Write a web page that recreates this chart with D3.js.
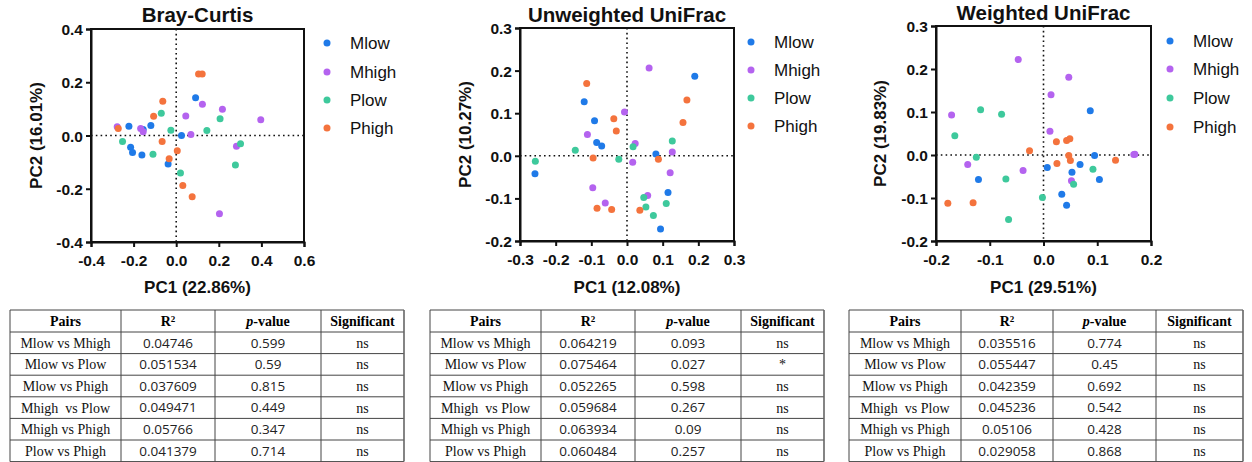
<!DOCTYPE html>
<html><head><meta charset="utf-8">
<script src="https://cdn.jsdelivr.net/npm/d3@7"></script>
<style>
html,body{margin:0;padding:0;background:#fff;}
svg{display:block;}
</style></head>
<body>
<svg id="chart" width="1252" height="462"></svg>
<script>
// ---------- DATA ----------
const groups = ["Mlow", "Mhigh", "Plow", "Phigh"];
const groupColors = ["#1f7ae8", "#b463ef", "#3ec99c", "#f4733d"];

// Bray-Curtis PCoA [PC1, PC2]
const bc_Mlow  = [[0.025,0.0],[0.091,0.142],[-0.222,0.035],[-0.155,0.023],[-0.119,0.038],[-0.214,-0.044],[-0.205,-0.064],[-0.161,-0.073],[-0.038,-0.107]];
const bc_Mhigh = [[-0.277,0.033],[-0.167,0.026],[-0.155,0.014],[0.045,0.073],[0.123,0.117],[0.217,0.099],[0.397,0.059],[0.069,0.004],[0.283,-0.040],[0.203,-0.294]];
const bc_Plow  = [[-0.252,-0.023],[-0.109,-0.070],[-0.070,0.084],[-0.025,0.020],[0.144,0.019],[0.206,0.063],[0.302,-0.031],[0.278,-0.111],[0.020,-0.141]];
const bc_Phigh = [[-0.272,0.026],[-0.106,0.072],[-0.063,0.129],[-0.066,-0.023],[-0.033,-0.087],[0.005,-0.057],[0.031,-0.188],[0.075,-0.230],[0.105,0.231],[0.122,0.231]];

// Unweighted UniFrac PCoA
const uu_Mlow  = [[0.190,0.187],[-0.120,0.127],[-0.091,0.082],[-0.085,0.031],[-0.071,0.023],[-0.258,-0.042],[0.081,0.004],[0.115,-0.086],[0.094,-0.172]];
const uu_Mhigh = [[0.062,0.206],[-0.007,0.103],[-0.111,0.050],[0.023,0.029],[0.016,-0.015],[0.127,0.009],[0.121,-0.040],[-0.096,-0.075],[-0.061,-0.111],[0.058,-0.093]];
const uu_Plow  = [[-0.145,0.013],[-0.257,-0.013],[-0.023,-0.008],[0.017,0.021],[0.127,0.035],[0.047,-0.098],[0.053,-0.120],[0.074,-0.140],[0.110,-0.112]];
const uu_Phigh = [[-0.113,0.170],[-0.037,0.087],[-0.030,0.058],[-0.095,-0.005],[-0.084,-0.123],[-0.043,-0.126],[0.036,-0.128],[0.088,-0.008],[0.157,0.078],[0.168,0.131]];

// Weighted UniFrac PCoA
const wu_Mlow  = [[0.087,0.103],[0.095,-0.001],[0.068,-0.022],[0.007,-0.029],[0.053,-0.040],[0.104,-0.057],[0.034,-0.091],[0.043,-0.117],[-0.121,-0.057]];
const wu_Mhigh = [[-0.047,0.222],[0.047,0.181],[0.014,0.140],[0.012,0.055],[-0.171,0.093],[-0.141,-0.022],[-0.038,-0.036],[0.052,-0.060],[0.170,0.002],[0.168,0.001]];
const wu_Plow  = [[-0.117,0.105],[-0.078,0.095],[-0.165,0.045],[-0.125,-0.005],[-0.070,-0.056],[-0.065,-0.150],[-0.002,-0.099],[0.056,-0.068],[0.092,-0.033]];
const wu_Phigh = [[-0.026,0.010],[0.024,0.031],[0.043,0.034],[0.049,0.038],[0.047,-0.001],[0.050,-0.013],[0.025,-0.020],[0.134,-0.012],[-0.178,-0.112],[-0.131,-0.111]];

// tick values
const bc_xTicks = [-0.4,-0.2,0.0,0.2,0.4,0.6];
const bc_yTicks = [-0.4,-0.2,0.0,0.2,0.4];
const uu_xTicks = [-0.3,-0.2,-0.1,0.0,0.1,0.2,0.3];
const uu_yTicks = [-0.2,-0.1,0.0,0.1,0.2,0.3];
const wu_xTicks = [-0.2,-0.1,0.0,0.1,0.2];
const wu_yTicks = [-0.2,-0.1,0.0,0.1,0.2,0.3];

// PERMANOVA tables
const tableHeader = ["Pairs", "R2", "p-value", "Significant"];
const pairs = ["Mlow vs Mhigh","Mlow vs Plow","Mlow vs Phigh","Mhigh  vs Plow","Mhigh vs Phigh","Plow vs Phigh"];
const bc_R2  = ["0.04746","0.051534","0.037609","0.049471","0.05766","0.041379"];
const bc_p   = ["0.599","0.59","0.815","0.449","0.347","0.714"];
const bc_sig = ["ns","ns","ns","ns","ns","ns"];
const uu_R2  = ["0.064219","0.075464","0.052265","0.059684","0.063934","0.060484"];
const uu_p   = ["0.093","0.027","0.598","0.267","0.09","0.257"];
const uu_sig = ["ns","*","ns","ns","ns","ns"];
const wu_R2  = ["0.035516","0.055447","0.042359","0.045236","0.05106","0.029058"];
const wu_p   = ["0.774","0.45","0.692","0.542","0.428","0.868"];
const wu_sig = ["ns","ns","ns","ns","ns","ns"];

// ---------- LAYOUT ----------
const panels = [
  {title:"Bray-Curtis", xl:"PC1 (22.86%)", yl:"PC2 (16.01%)",
   series:[bc_Mlow,bc_Mhigh,bc_Plow,bc_Phigh], xd:[-0.4,0.6], yd:[-0.4,0.4], xt:bc_xTicks, yt:bc_yTicks,
   x0:91, x1:304, y0:29, y1:242, titleY:22, ylX:36, legX:327, legY:[43,72,100,128],
   table:{cols:[10,121,215,321,404], r2:bc_R2, p:bc_p, sig:bc_sig}},
  {title:"Unweighted UniFrac", xl:"PC1 (12.08%)", yl:"PC2 (10.27%)",
   series:[uu_Mlow,uu_Mhigh,uu_Plow,uu_Phigh], xd:[-0.3,0.3], yd:[-0.2,0.3], xt:uu_xTicks, yt:uu_yTicks,
   x0:520, x1:734, y0:28, y1:241, titleY:22, ylX:465, legX:751, legY:[42,70,98,126],
   table:{cols:[430,541,635,741,824], r2:uu_R2, p:uu_p, sig:uu_sig}},
  {title:"Weighted UniFrac", xl:"PC1 (29.51%)", yl:"PC2 (19.83%)",
   series:[wu_Mlow,wu_Mhigh,wu_Plow,wu_Phigh], xd:[-0.2,0.2], yd:[-0.2,0.3], xt:wu_xTicks, yt:wu_yTicks,
   x0:936, x1:1151, y0:26, y1:241, titleY:20, ylX:880, legX:1170, legY:[41,69,98,127],
   table:{cols:[849,961,1053,1156,1243], r2:wu_R2, p:wu_p, sig:wu_sig}}
];

const svg = d3.select("#chart");
const fmt = d => d.toFixed(1);
const SANS = "'Liberation Sans', Arial, sans-serif";
const SERIF = "'Liberation Serif', 'Times New Roman', serif";

panels.forEach(P => {
  const x = d3.scaleLinear().domain(P.xd).range([P.x0, P.x1]);
  const y = d3.scaleLinear().domain(P.yd).range([P.y1, P.y0]);
  const g = svg.append("g");

  // zero reference lines
  g.append("line").attr("x1", x(0)).attr("x2", x(0)).attr("y1", P.y0).attr("y2", P.y1)
    .attr("stroke", "#111").attr("stroke-width", 1.6).attr("stroke-dasharray", "1.6,3.2");
  g.append("line").attr("x1", P.x0).attr("x2", P.x1).attr("y1", y(0)).attr("y2", y(0))
    .attr("stroke", "#111").attr("stroke-width", 1.6).attr("stroke-dasharray", "1.6,3.2");

  // frame
  g.append("rect").attr("x", P.x0).attr("y", P.y0).attr("width", P.x1 - P.x0).attr("height", P.y1 - P.y0)
    .attr("fill", "none").attr("stroke", "#111").attr("stroke-width", 2);

  // axes
  const xa = g.append("g").attr("transform", `translate(0,${P.y1})`)
    .call(d3.axisBottom(x).tickValues(P.xt).tickFormat(fmt).tickSize(5).tickPadding(4));
  const ya = g.append("g").attr("transform", `translate(${P.x0},0)`)
    .call(d3.axisLeft(y).tickValues(P.yt).tickFormat(fmt).tickSize(5).tickPadding(3));
  [xa, ya].forEach(a => {
    a.select(".domain").attr("stroke", "#111").attr("stroke-width", 2);
    a.selectAll(".tick line").attr("stroke", "#111").attr("stroke-width", 2);
    a.selectAll(".tick text").attr("fill", "#111").style("font-family", SANS)
      .style("font-weight", "bold").style("font-size", "15.5px");
  });
  xa.selectAll(".tick text").attr("dy", "0.95em");
  ya.selectAll(".tick text").attr("dy", "0.36em");

  // title and axis labels
  g.append("text").attr("x", (P.x0 + P.x1) / 2).attr("y", P.titleY).attr("text-anchor", "middle")
    .style("font-family", SANS).style("font-weight", "bold").style("font-size", "20.5px").attr("fill", "#111")
    .text(P.title);
  g.append("text").attr("x", (P.x0 + P.x1) / 2).attr("y", 293).attr("text-anchor", "middle")
    .style("font-family", SANS).style("font-weight", "bold").style("font-size", "17px").attr("fill", "#111")
    .text(P.xl);
  g.append("text").attr("transform", `translate(${P.ylX + 6},${(P.y0 + P.y1) / 2}) rotate(-90)`)
    .attr("text-anchor", "middle")
    .style("font-family", SANS).style("font-weight", "bold").style("font-size", "17px").attr("fill", "#111")
    .text(P.yl);

  // points
  P.series.forEach((pts, i) => {
    g.append("g").selectAll("circle").data(pts).join("circle")
      .attr("cx", d => x(d[0])).attr("cy", d => y(d[1])).attr("r", 3.5)
      .attr("fill", groupColors[i]);
  });

  // legend
  groups.forEach((name, i) => {
    g.append("circle").attr("cx", P.legX).attr("cy", P.legY[i]).attr("r", 3.5).attr("fill", groupColors[i]);
    g.append("text").attr("x", P.legX + 23).attr("y", P.legY[i]).attr("dy", "0.35em")
      .style("font-family", SANS).style("font-size", "17px").attr("fill", "#111").text(name);
  });

  // table
  const T = P.table, cols = T.cols;
  const top = 310, headH = 22, rowH = 21.6;
  const rowsY = [top, top + headH];
  for (let r = 1; r <= pairs.length; r++) rowsY.push(top + headH + r * rowH);
  const tg = svg.append("g");
  const bottom = rowsY[rowsY.length - 1];
  rowsY.forEach(yy => tg.append("line").attr("x1", cols[0]).attr("x2", cols[4]).attr("y1", yy).attr("y2", yy)
    .attr("stroke", "#444").attr("stroke-width", 1));
  cols.forEach((xx, ci) => tg.append("line").attr("x1", xx).attr("x2", xx).attr("y1", top).attr("y2", bottom)
    .attr("stroke", ci === 4 ? "#666" : "#444").attr("stroke-width", ci === 4 ? 1.6 : 1));
  const cx = c => (cols[c] + cols[c + 1]) / 2;
  const hy = top + headH / 2;
  // header
  tg.append("text").attr("x", cx(0)).attr("y", hy).attr("dy", "0.35em").attr("text-anchor", "middle")
    .style("font-family", SERIF).style("font-weight", "bold").style("font-size", "14px").text(tableHeader[0]);
  const r2 = tg.append("text").attr("x", cx(1)).attr("y", hy).attr("dy", "0.35em").attr("text-anchor", "middle")
    .style("font-family", SERIF).style("font-weight", "bold").style("font-size", "14px");
  r2.append("tspan").text("R");
  r2.append("tspan").attr("dy", "-0.45em").style("font-size", "9px").text("2");
  const pv = tg.append("text").attr("x", cx(2)).attr("y", hy).attr("dy", "0.35em").attr("text-anchor", "middle")
    .style("font-family", SERIF).style("font-weight", "bold").style("font-size", "14px");
  pv.append("tspan").style("font-style", "italic").text("p");
  pv.append("tspan").text("-value");
  tg.append("text").attr("x", cx(3)).attr("y", hy).attr("dy", "0.35em").attr("text-anchor", "middle")
    .style("font-family", SERIF).style("font-weight", "bold").style("font-size", "14px").text(tableHeader[3]);
  // body
  pairs.forEach((pr, r) => {
    const yy = top + headH + r * rowH + rowH / 2;
    tg.append("text").attr("x", cx(0)).attr("y", yy).attr("dy", "0.35em").attr("text-anchor", "middle")
      .attr("xml:space", "preserve").style("white-space", "pre")
      .style("font-family", SERIF).style("font-size", "14px").attr("fill", "#111").text(pr);
    tg.append("text").attr("x", cx(1)).attr("y", yy).attr("dy", "0.35em").attr("text-anchor", "middle")
      .style("font-family", "'Open Sans', sans-serif").style("font-size", "13.5px").attr("fill", "#222").text(T.r2[r]);
    tg.append("text").attr("x", cx(2)).attr("y", yy).attr("dy", "0.35em").attr("text-anchor", "middle")
      .style("font-family", "'Open Sans', sans-serif").style("font-size", "13.5px").attr("fill", "#222").text(T.p[r]);
    tg.append("text").attr("x", cx(3)).attr("y", yy).attr("dy", "0.35em").attr("text-anchor", "middle")
      .style("font-family", SERIF).style("font-size", "14px").attr("fill", "#111").text(T.sig[r]);
  });
});
</script>
</body></html>
